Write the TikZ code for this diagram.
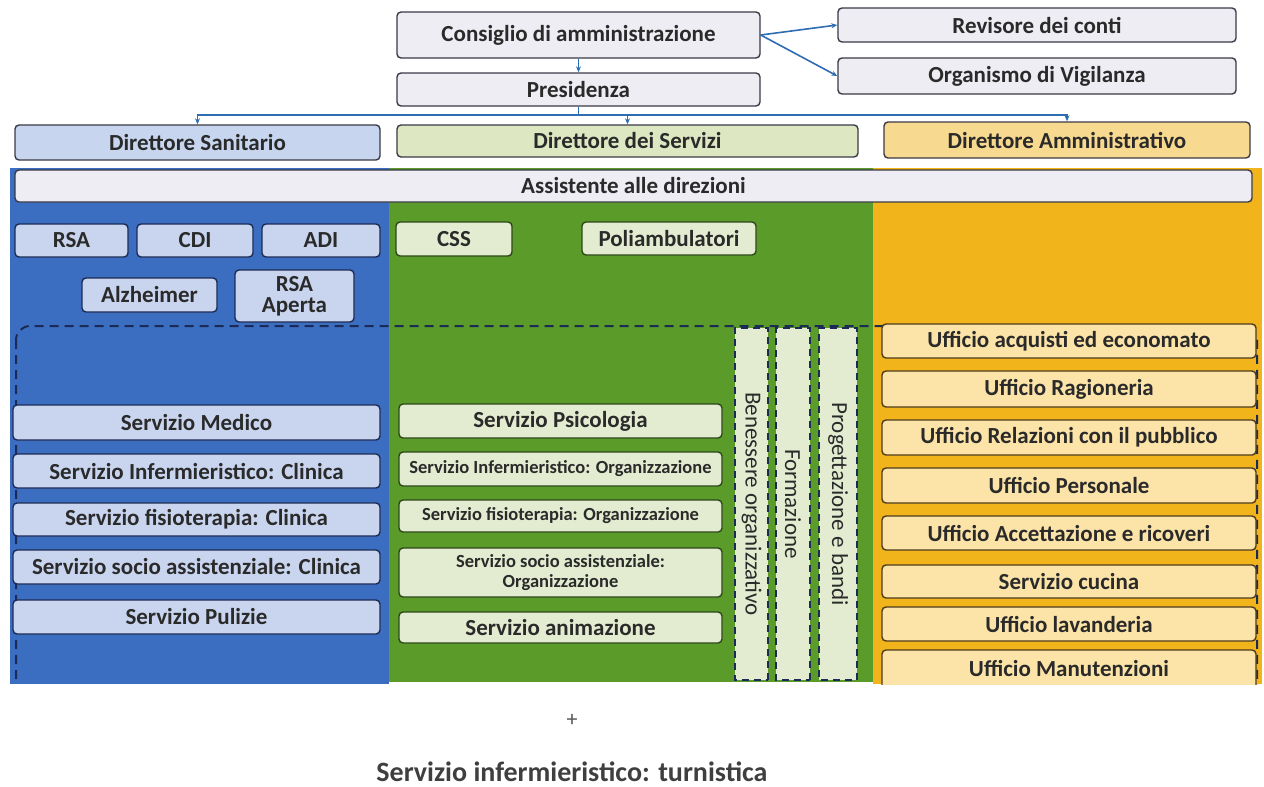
\documentclass[tikz,border=0pt]{standalone}
\usepackage{fontspec}
\setmainfont{Carlito}
\usetikzlibrary{arrows.meta,calc}
\definecolor{topfill}{HTML}{EDEDF3}
\definecolor{bord}{HTML}{3A3A46}
\definecolor{bluepan}{HTML}{3B6DC1}
\definecolor{bluebox}{HTML}{C9D5EF}
\definecolor{blueline}{HTML}{1C2B55}
\definecolor{greenpan}{HTML}{5B9B2A}
\definecolor{greenbox}{HTML}{E3ECD0}
\definecolor{greenline}{HTML}{2C4718}
\definecolor{orangepan}{HTML}{F1B41A}
\definecolor{orangebox}{HTML}{FCE4A9}
\definecolor{orangeline}{HTML}{4E3A1C}
\definecolor{dsanfill}{HTML}{C7D5EF}
\definecolor{dserfill}{HTML}{DDE8C3}
\definecolor{dammfill}{HTML}{F8D990}
\definecolor{conncol}{HTML}{2F6DB3}
\definecolor{txt}{HTML}{2A2A2A}
\newcommand\mybox[7]{\node[#6, minimum width={#4-#2}, minimum height={#5-#3}] (#1) at ({(#2+#4)/2},{(#3+#5)/2}) {#7};}
\tikzset{
  base/.style={rounded corners=4pt, inner sep=0pt, line width=1.4pt, text=txt, font=\fontsize{23}{24}\selectfont\bfseries, align=center},
  topbox/.style={base, draw=bord, fill=topfill},
  bbox/.style={base, draw=blueline, fill=bluebox},
  gbox/.style={base, draw=greenline, fill=greenbox},
  gsmall/.style={gbox, font=\fontsize{18.5}{20}\selectfont\bfseries},
  obox/.style={base, draw=orangeline, fill=orangebox},
  panel/.style={inner sep=0pt, draw=none},
  colbox/.style={inner sep=0pt, draw=blueline, dashed, dash pattern=on 7pt off 5pt, line width=2pt, fill=greenbox, text=txt, font=\fontsize{23}{24}\selectfont},
  conn/.style={draw=conncol, line width=1.6pt, -{Stealth[length=6pt,width=5pt]}},
  cline/.style={draw=conncol, line width=1.6pt},
}
\begin{document}
\begin{tikzpicture}[x=1pt,y=-1pt]
\useasboundingbox (0,0) rectangle (1264,787);
\fill[white] (0,0) rectangle (1264,787);
% panels
\mybox{pblue}{10}{168}{389}{684}{panel, fill=bluepan}{}
\mybox{pgreen}{389}{168}{873}{682}{panel, fill=greenpan}{}
\mybox{porange}{873}{168}{1262}{684}{panel, fill=orangepan}{}
% top
\mybox{cons}{397}{12}{760}{58}{topbox}{Consiglio di amministrazione}
\mybox{pres}{397}{73}{760}{106}{topbox}{Presidenza}
\mybox{rev}{838}{8}{1236}{42}{topbox}{Revisore dei conti}
\mybox{org}{838}{58}{1236}{94}{topbox}{Organismo di Vigilanza}
\mybox{dsan}{15}{125}{380}{160}{topbox, fill=dsanfill}{Direttore Sanitario}
\mybox{dser}{397}{125}{858}{157}{topbox, fill=dserfill}{Direttore dei Servizi}
\mybox{damm}{884}{122}{1250}{158}{topbox, fill=dammfill}{Direttore Amministrativo}
\mybox{ass}{15}{170}{1252}{202}{topbox}{Assistente alle direzioni}
% connectors
\draw[conn] (cons.east) -- (rev.west);
\draw[conn] (cons.east) -- (org.west);
\draw[conn] (cons.south) -- (pres.north);
\coordinate (hub) at ($(pres.south)+(0,8)$);
\coordinate (hubs) at (hub -| dser.north);
\draw[cline] (pres.south) -- (hub);
\draw[conn] (hub) -| (dsan.north);
\draw[conn] (hub) -- (hubs) -- (dser.north);
\draw[conn] (hub) -| (damm.north);
% blue column
\mybox{rsa}{15}{224}{128}{257}{bbox}{RSA}
\mybox{cdi}{137}{224}{253}{257}{bbox}{CDI}
\mybox{adi}{262}{224}{380}{257}{bbox}{ADI}
\mybox{alz}{82}{278}{217}{312}{bbox}{Alzheimer}
\mybox{rsaa}{235}{270}{354}{322}{bbox}{RSA\\[-3pt]Aperta}
% green column
\mybox{css}{396}{222}{512}{256}{gbox}{CSS}
\mybox{poli}{582}{222}{756}{255}{gbox}{Poliambulatori}
% dashed big frame
\begin{scope}
\clip (0,160) rectangle (1264,684);
\draw[blueline, dashed, dash pattern=on 9pt off 6pt, line width=2pt, rounded corners=14pt] (16,326) rectangle (1257,720);
\end{scope}
% vertical dashed columns
\node[colbox, rotate=-90, minimum width=352pt, minimum height=33pt] (ben) at (751.5,504) {Benessere organizzativo};
\node[colbox, rotate=-90, minimum width=352pt, minimum height=34pt] (form) at (793,504) {Formazione};
\node[colbox, rotate=-90, minimum width=352pt, minimum height=38pt] (prog) at (838,504) {Progettazione e bandi};
% blue services
\mybox{smed}{13}{405}{380}{440}{bbox}{Servizio Medico}
\mybox{sinf}{13}{454}{380}{488}{bbox}{Servizio Infermieristico: Clinica}
\mybox{sfis}{13}{503}{380}{536}{bbox}{Servizio fisioterapia: Clinica}
\mybox{ssoc}{13}{550}{380}{584}{bbox}{Servizio socio assistenziale: Clinica}
\mybox{spul}{13}{600}{380}{634}{bbox}{Servizio Pulizie}
% green services
\mybox{spsi}{399}{404}{722}{438}{gbox}{Servizio Psicologia}
\mybox{sinfo}{399}{452}{722}{486}{gsmall}{Servizio Infermieristico: Organizzazione}
\mybox{sfiso}{399}{500}{722}{532}{gsmall}{Servizio fisioterapia: Organizzazione}
\mybox{ssoco}{399}{548}{722}{597}{gsmall}{Servizio socio assistenziale:\\ Organizzazione}
\mybox{sani}{399}{612}{722}{643}{gbox}{Servizio animazione}
% orange offices
\mybox{uacq}{882}{324}{1256}{358}{obox}{Ufficio acquisti ed economato}
\mybox{urag}{882}{371}{1256}{407}{obox}{Ufficio Ragioneria}
\mybox{urel}{882}{420}{1256}{455}{obox}{Ufficio Relazioni con il pubblico}
\mybox{uper}{882}{468}{1256}{503}{obox}{Ufficio Personale}
\mybox{uacc}{882}{516}{1256}{550}{obox}{Ufficio Accettazione e ricoveri}
\mybox{scuc}{882}{565}{1256}{598}{obox}{Servizio cucina}
\mybox{ulav}{882}{607}{1256}{641}{obox}{Ufficio lavanderia}
\begin{scope}
\clip (0,160) rectangle (1264,684);
\mybox{uman}{882}{650}{1256}{700}{obox}{}
\end{scope}
\node[text=txt, font=\fontsize{23}{24}\selectfont\bfseries] (umant) at (1069,668) {Ufficio Manutenzioni};
% bottom
\node[text=txt!80, font=\fontsize{22}{24}\selectfont] (plus) at (572,720) {+};
\node[text=txt!90, font=\fontsize{28}{30}\selectfont\bfseries] (turn) at (572,772) {Servizio infermieristico: turnistica};
\end{tikzpicture}
\end{document}
